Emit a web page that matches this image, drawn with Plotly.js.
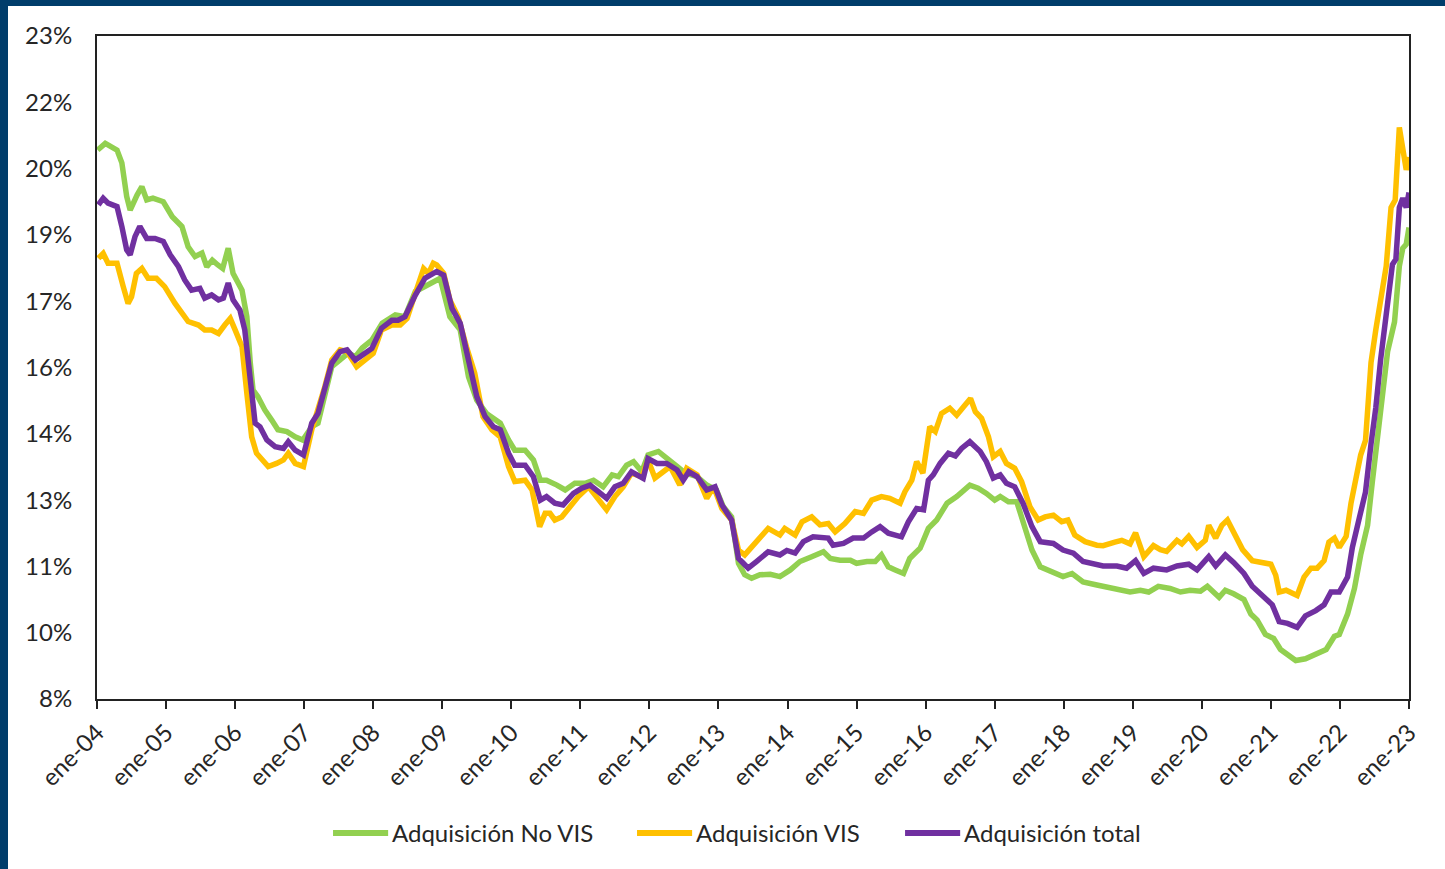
<!DOCTYPE html>
<html>
<head>
<meta charset="utf-8">
<script src="https://cdn.plot.ly/plotly-3.0.1.min.js"></script>
<style>
  html, body { margin: 0; padding: 0; background: #ffffff; }
  #wrap { position: relative; width: 1445px; height: 869px; overflow: hidden; }
  #chart { position: absolute; left: 0; top: 0; width: 1445px; height: 869px; }
  .bar { position: absolute; background: #003d6b; pointer-events: none; }
</style>
</head>
<body>
<div id="wrap">
  <div id="chart"></div>
  <div class="bar" style="left:0;top:0;width:1445px;height:6px;"></div>
  <div class="bar" style="left:0;top:0;width:8px;height:869px;"></div>
</div>
<script>
// Series names
const seriesNames = ['Adquisición No VIS', 'Adquisición VIS', 'Adquisición total'];

// x tick positions (years) and labels
const tickYears = [2004,2005,2006,2007,2008,2009,2010,2011,2012,2013,2014,2015,2016,2017,2018,2019,2020,2021,2022,2023];
const tickLabels = ['ene-04','ene-05','ene-06','ene-07','ene-08','ene-09','ene-10','ene-11','ene-12','ene-13','ene-14','ene-15','ene-16','ene-17','ene-18','ene-19','ene-20','ene-21','ene-22','ene-23'];

// y ticks (percent) and labels as shown in the original
const yTickVals = [8, 9.5, 11, 12.5, 14, 15.5, 17, 18.5, 20, 21.5, 23];
const yTickText = ['8%','10%','11%','13%','14%','16%','17%','19%','20%','22%','23%'];

// Adquisición No VIS (time in decimal years, value in %)
const noVisT = [2004.01,2004.12,2004.29,2004.36,2004.43,2004.48,2004.58,2004.65,2004.72,2004.81,2004.96,2005.09,2005.23,2005.32,2005.42,2005.52,2005.59,2005.67,2005.75,2005.82,2005.90,2005.97,2006.10,2006.17,2006.22,2006.26,2006.33,2006.43,2006.53,2006.62,2006.75,2006.87,2006.98,2007.11,2007.20,2007.30,2007.40,2007.52,2007.64,2007.74,2007.84,2007.98,2008.13,2008.32,2008.46,2008.61,2008.75,2008.87,2008.97,2009.11,2009.26,2009.38,2009.50,2009.64,2009.84,2009.96,2010.05,2010.20,2010.32,2010.42,2010.51,2010.66,2010.78,2010.92,2011.07,2011.19,2011.33,2011.46,2011.55,2011.67,2011.77,2011.89,2011.98,2012.13,2012.27,2012.40,2012.52,2012.69,2012.83,2012.97,2013.07,2013.19,2013.29,2013.38,2013.48,2013.60,2013.75,2013.89,2014.04,2014.18,2014.35,2014.52,2014.62,2014.76,2014.91,2015.00,2015.15,2015.27,2015.36,2015.46,2015.56,2015.68,2015.77,2015.92,2016.04,2016.16,2016.31,2016.45,2016.64,2016.76,2016.88,2017.00,2017.08,2017.20,2017.32,2017.41,2017.54,2017.66,2017.85,2017.99,2018.12,2018.28,2018.48,2018.57,2018.77,2018.96,2019.11,2019.23,2019.37,2019.54,2019.69,2019.83,2019.98,2020.08,2020.25,2020.34,2020.46,2020.61,2020.71,2020.80,2020.92,2021.04,2021.14,2021.26,2021.36,2021.50,2021.67,2021.80,2021.92,2021.99,2022.11,2022.21,2022.30,2022.40,2022.47,2022.54,2022.62,2022.69,2022.79,2022.86,2022.91,2022.96,2023.00];
const noVisV = [20.42,20.57,20.42,20.13,19.37,19.06,19.40,19.59,19.29,19.33,19.25,18.91,18.69,18.23,18.01,18.09,17.78,17.93,17.82,17.74,18.20,17.63,17.25,16.65,15.60,14.99,14.84,14.54,14.31,14.09,14.05,13.93,13.86,14.16,14.24,14.84,15.52,15.67,15.83,15.74,15.94,16.12,16.50,16.69,16.65,17.22,17.33,17.44,17.52,16.65,16.35,15.29,14.76,14.46,14.24,13.86,13.63,13.63,13.41,12.95,12.95,12.84,12.73,12.88,12.88,12.95,12.80,13.07,13.03,13.29,13.37,13.14,13.52,13.60,13.44,13.26,13.11,13.03,12.84,12.73,12.35,12.12,11.07,10.81,10.73,10.81,10.82,10.77,10.92,11.11,11.22,11.33,11.18,11.14,11.14,11.07,11.11,11.11,11.26,10.99,10.92,10.84,11.18,11.41,11.86,12.05,12.43,12.58,12.84,12.77,12.65,12.50,12.58,12.46,12.46,12.05,11.37,10.99,10.88,10.77,10.84,10.65,10.58,10.55,10.50,10.42,10.46,10.42,10.55,10.50,10.42,10.46,10.44,10.55,10.30,10.46,10.38,10.25,9.92,9.79,9.46,9.37,9.12,9.00,8.87,8.91,9.04,9.12,9.42,9.46,9.92,10.50,11.26,11.93,12.93,13.85,14.94,15.86,16.53,17.79,18.20,18.29,18.67];

// Adquisición VIS
const visT = [2004.02,2004.09,2004.16,2004.29,2004.38,2004.45,2004.50,2004.57,2004.65,2004.74,2004.86,2004.98,2005.13,2005.23,2005.32,2005.47,2005.56,2005.66,2005.76,2005.85,2005.93,2006.00,2006.10,2006.17,2006.24,2006.31,2006.39,2006.48,2006.60,2006.70,2006.77,2006.87,2006.99,2007.11,2007.30,2007.40,2007.52,2007.62,2007.76,2007.88,2008.00,2008.12,2008.27,2008.39,2008.49,2008.61,2008.73,2008.80,2008.87,2008.92,2009.02,2009.11,2009.23,2009.35,2009.47,2009.59,2009.72,2009.84,2009.96,2010.05,2010.20,2010.30,2010.37,2010.41,2010.49,2010.56,2010.63,2010.73,2010.85,2010.97,2011.12,2011.24,2011.38,2011.50,2011.62,2011.74,2011.89,2011.98,2012.08,2012.20,2012.30,2012.44,2012.54,2012.69,2012.83,2012.93,2013.05,2013.19,2013.29,2013.38,2013.48,2013.60,2013.72,2013.89,2013.96,2014.11,2014.21,2014.35,2014.47,2014.59,2014.69,2014.83,2014.98,2015.10,2015.22,2015.36,2015.48,2015.63,2015.70,2015.80,2015.87,2015.96,2016.02,2016.06,2016.14,2016.23,2016.35,2016.45,2016.55,2016.65,2016.72,2016.81,2016.91,2016.98,2017.08,2017.17,2017.29,2017.39,2017.51,2017.63,2017.73,2017.85,2017.97,2018.06,2018.16,2018.31,2018.48,2018.57,2018.74,2018.84,2018.96,2019.04,2019.16,2019.30,2019.40,2019.49,2019.64,2019.71,2019.81,2019.93,2020.05,2020.10,2020.20,2020.29,2020.37,2020.46,2020.59,2020.73,2020.90,2021.00,2021.07,2021.12,2021.22,2021.31,2021.38,2021.48,2021.58,2021.67,2021.77,2021.84,2021.92,2021.99,2022.09,2022.16,2022.23,2022.30,2022.37,2022.45,2022.52,2022.59,2022.67,2022.74,2022.80,2022.86,2022.91,2022.96,2023.00];
const visV = [17.97,18.08,17.86,17.86,17.33,16.95,17.10,17.63,17.74,17.52,17.52,17.33,16.95,16.76,16.54,16.46,16.35,16.35,16.27,16.46,16.61,16.35,15.97,14.92,13.93,13.56,13.41,13.26,13.33,13.41,13.56,13.33,13.26,14.09,15.07,15.67,15.90,15.86,15.52,15.67,15.82,16.35,16.46,16.46,16.61,17.18,17.74,17.63,17.86,17.82,17.63,17.03,16.65,15.97,15.37,14.39,14.09,13.93,13.26,12.92,12.95,12.73,12.28,11.90,12.20,12.20,12.05,12.12,12.35,12.58,12.80,12.58,12.28,12.58,12.80,13.11,13.03,13.41,13.00,13.14,13.26,12.84,13.22,13.07,12.54,12.80,12.31,12.05,11.37,11.26,11.45,11.67,11.86,11.71,11.86,11.71,12.01,12.12,11.94,11.97,11.78,11.97,12.24,12.20,12.50,12.58,12.54,12.43,12.69,12.95,13.37,13.11,13.78,14.16,14.05,14.46,14.58,14.42,14.61,14.80,14.50,14.35,13.93,13.48,13.60,13.33,13.22,12.92,12.35,12.05,12.12,12.16,12.01,12.05,11.71,11.56,11.48,11.47,11.55,11.59,11.51,11.76,11.22,11.47,11.38,11.34,11.59,11.51,11.68,11.43,11.59,11.93,11.64,11.93,12.05,11.76,11.38,11.13,11.09,11.05,10.80,10.42,10.46,10.38,10.34,10.76,10.96,10.96,11.13,11.55,11.64,11.43,11.68,12.43,13.01,13.52,13.85,15.61,16.36,17.12,17.79,19.12,19.29,20.93,20.38,19.97,20.26];

// Adquisición total
const totalT = [2004.02,2004.09,2004.16,2004.29,2004.36,2004.43,2004.48,2004.55,2004.62,2004.72,2004.84,2004.96,2005.06,2005.18,2005.27,2005.37,2005.49,2005.56,2005.66,2005.76,2005.83,2005.90,2005.97,2006.07,2006.14,2006.19,2006.24,2006.29,2006.36,2006.46,2006.58,2006.70,2006.77,2006.87,2006.99,2007.11,2007.20,2007.30,2007.40,2007.52,2007.62,2007.74,2007.83,2007.98,2008.12,2008.27,2008.36,2008.46,2008.61,2008.75,2008.87,2008.92,2009.02,2009.14,2009.26,2009.38,2009.50,2009.62,2009.74,2009.84,2009.96,2010.05,2010.20,2010.32,2010.42,2010.51,2010.63,2010.75,2010.90,2011.02,2011.14,2011.26,2011.38,2011.50,2011.62,2011.74,2011.91,2011.98,2012.11,2012.25,2012.40,2012.49,2012.57,2012.69,2012.83,2012.95,2013.05,2013.19,2013.29,2013.36,2013.43,2013.55,2013.72,2013.89,2013.99,2014.11,2014.23,2014.37,2014.59,2014.66,2014.81,2014.95,2015.10,2015.22,2015.34,2015.46,2015.65,2015.75,2015.87,2015.97,2016.04,2016.11,2016.21,2016.33,2016.43,2016.52,2016.64,2016.79,2016.88,2016.98,2017.08,2017.17,2017.29,2017.41,2017.54,2017.66,2017.85,2017.99,2018.14,2018.28,2018.48,2018.57,2018.77,2018.91,2019.04,2019.16,2019.30,2019.49,2019.64,2019.81,2019.93,2020.10,2020.20,2020.34,2020.46,2020.61,2020.73,2020.90,2021.02,2021.12,2021.24,2021.38,2021.50,2021.65,2021.77,2021.87,2021.99,2022.11,2022.18,2022.28,2022.37,2022.45,2022.52,2022.59,2022.69,2022.76,2022.81,2022.86,2022.91,2022.96,2023.00];
const totalV = [19.18,19.33,19.22,19.14,18.69,18.16,18.05,18.46,18.69,18.42,18.42,18.35,18.05,17.78,17.48,17.25,17.29,17.07,17.14,17.03,17.07,17.41,17.03,16.80,16.35,15.60,14.70,14.24,14.16,13.86,13.71,13.67,13.82,13.63,13.52,14.24,14.46,14.99,15.60,15.86,15.90,15.67,15.78,15.93,16.39,16.57,16.57,16.65,17.14,17.52,17.63,17.67,17.59,16.84,16.50,15.60,14.84,14.39,14.16,14.09,13.56,13.29,13.29,13.03,12.50,12.58,12.43,12.39,12.65,12.77,12.84,12.69,12.54,12.80,12.88,13.14,12.99,13.44,13.33,13.33,13.18,12.95,13.14,13.03,12.73,12.80,12.39,12.05,11.18,11.07,10.96,11.11,11.33,11.26,11.36,11.30,11.56,11.67,11.64,11.48,11.52,11.64,11.64,11.78,11.90,11.75,11.67,12.01,12.31,12.28,12.95,13.07,13.33,13.56,13.50,13.67,13.82,13.60,13.37,13.00,13.07,12.88,12.80,12.43,11.90,11.56,11.52,11.37,11.30,11.11,11.03,11.01,11.01,10.96,11.13,10.84,10.96,10.92,11.01,11.05,10.92,11.22,11.01,11.26,11.09,10.84,10.55,10.30,10.13,9.75,9.71,9.62,9.88,10.00,10.13,10.42,10.42,10.76,11.43,12.09,12.68,13.77,14.60,15.69,16.95,17.83,17.95,19.12,19.33,19.12,19.46];

const colors = ['#92D050', '#FFC000', '#7030A0'];
const FONT = 'Lato, "Open Sans", "DejaVu Sans", sans-serif';
const TXT = '#262626';

const traces = [
  {x: noVisT, y: noVisV, name: seriesNames[0]},
  {x: visT, y: visV, name: seriesNames[1]},
  {x: totalT, y: totalV, name: seriesNames[2]}
].map((t, i) => Object.assign(t, {
  type: 'scatter', mode: 'lines',
  line: {color: colors[i], width: 5.5, shape: 'linear'},
  hoverinfo: 'skip', showlegend: false
}));

// Legend drawn as paper-anchored line samples + text labels
const legendX = [0.1799, 0.4116, 0.6159];   // left end of each line sample (paper)
const legendLen = 0.0420;                    // sample length (paper)
const legendY = -0.2021;
const shapes = [], annotations = [];
seriesNames.forEach((nm, i) => {
  shapes.push({type: 'line', xref: 'paper', yref: 'paper',
    x0: legendX[i], x1: legendX[i] + legendLen, y0: legendY, y1: legendY,
    line: {color: colors[i], width: 6}});
  annotations.push({xref: 'paper', yref: 'paper', x: legendX[i] + legendLen + 0.0015, y: legendY,
    xanchor: 'left', yanchor: 'middle', showarrow: false, text: nm,
    font: {family: FONT, size: 24, color: TXT}});
});

const layout = {
  width: 1445, height: 869,
  margin: {l: 97, r: 36, t: 36, b: 170, pad: 0},
  paper_bgcolor: '#ffffff', plot_bgcolor: '#ffffff',
  font: {family: FONT, color: TXT, size: 24},
  showlegend: false,
  shapes: shapes,
  annotations: annotations,
  xaxis: {
    type: 'linear', range: [2004, 2023],
    tickmode: 'array', tickvals: tickYears, ticktext: tickLabels,
    tickangle: -45, ticks: 'outside', ticklen: 8, tickwidth: 2, tickcolor: '#222',
    showline: true, linewidth: 2, linecolor: '#222', mirror: true,
    showgrid: false, zeroline: false,
    tickfont: {family: FONT, size: 24, color: TXT}
  },
  yaxis: {
    range: [8, 23],
    tickmode: 'array', tickvals: yTickVals, ticktext: yTickText,
    ticks: '', ticklabelstandoff: 18,
    showline: true, linewidth: 2, linecolor: '#222', mirror: true,
    showgrid: false, zeroline: false,
    tickfont: {family: FONT, size: 24, color: TXT}
  }
};

Plotly.newPlot('chart', traces, layout, {displayModeBar: false, staticPlot: true});
</script>
</body>
</html>
